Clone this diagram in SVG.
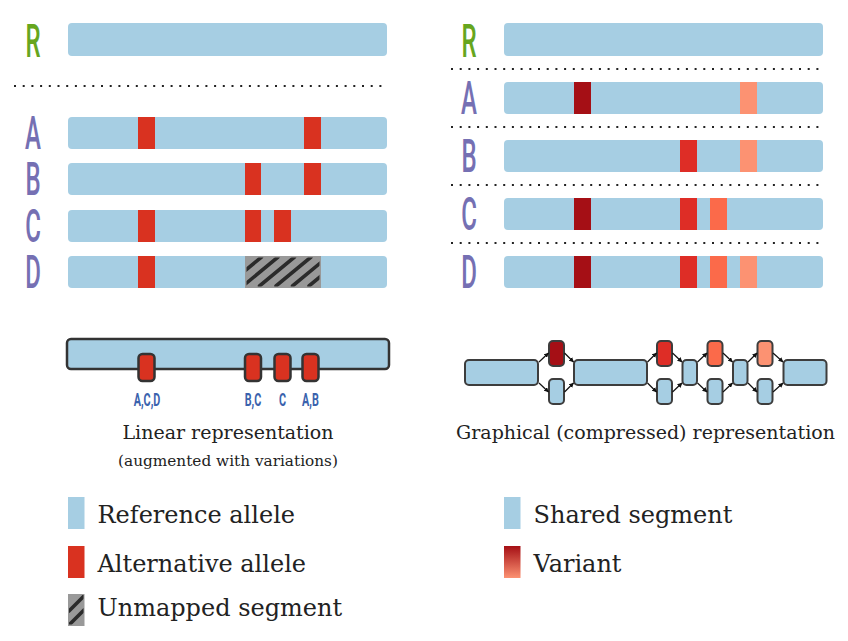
<svg xmlns="http://www.w3.org/2000/svg" width="848" height="641" viewBox="0 0 848 641">
<defs>
<style>
.seg{fill:#a6cee3}
.alt{fill:#d93220}
.v1{fill:#a50f15}.v2{fill:#de2d26}.v3{fill:#fb6a4a}.v4{fill:#fc9272}
.lt{font-family:Roboto,"DejaVu Sans",sans-serif;font-size:30px;font-weight:500;text-anchor:middle}
.gr{fill:#66a61e}.pu{fill:#7570b3}
.dot{stroke:#222;stroke-width:2;stroke-dasharray:2 6.7;fill:none}
.node{fill:#a6cee3;stroke:#3d3d3d;stroke-width:2}
.edge{stroke:#111;stroke-width:1.2;fill:none;marker-end:url(#ah)}
.cap{font-family:"DejaVu Serif",serif;fill:#222;text-anchor:middle}
.leg{font-family:"DejaVu Serif",serif;fill:#222;font-size:24px}
.lab{font-family:Roboto,"DejaVu Sans",sans-serif;font-size:18px;font-weight:700;fill:#3a62ad;text-anchor:middle}
.hl{stroke:#2b2b2b;stroke-width:3.6;stroke-linecap:round;fill:none}
</style>
<marker id="ah" viewBox="0 0 10 10" refX="9" refY="5" markerWidth="5" markerHeight="5" orient="auto" markerUnits="userSpaceOnUse">
<path d="M0,0 L10,5 L0,10 z" fill="#111"/>
</marker>
<clipPath id="hclip"><rect x="246.5" y="257.5" width="73" height="29"/></clipPath>
<clipPath id="lclip"><rect x="69" y="595" width="14.5" height="29.5"/></clipPath>
<linearGradient id="vg" x1="0" y1="0" x2="0" y2="1">
<stop offset="0" stop-color="#a50f15"/>
<stop offset="1" stop-color="#fc9272"/>
</linearGradient>
</defs>
<rect width="848" height="641" fill="#fff"/>

<g id="left-panel">
<text class="lt gr" transform="translate(33,57) scale(0.8,1.53)">R</text>
<rect class="seg" x="68" y="23" width="319" height="33" rx="4"/>
<line class="dot" x1="14" y1="86" x2="384" y2="86"/>
<g id="left-A">
<text class="lt pu" transform="translate(33,149) scale(0.8,1.53)">A</text>
<rect class="seg" x="68" y="117" width="319" height="32" rx="4"/>
<rect class="alt" x="138" y="117" width="17" height="32"/>
<rect class="alt" x="304" y="117" width="17" height="32"/>
</g>
<g id="left-B">
<text class="lt pu" transform="translate(33,195) scale(0.8,1.53)">B</text>
<rect class="seg" x="68" y="163" width="319" height="32" rx="4"/>
<rect class="alt" x="245" y="163" width="16" height="32"/>
<rect class="alt" x="304" y="163" width="17" height="32"/>
</g>
<g id="left-C">
<text class="lt pu" transform="translate(33,242) scale(0.8,1.53)">C</text>
<rect class="seg" x="68" y="210" width="319" height="32" rx="4"/>
<rect class="alt" x="138" y="210" width="17" height="32"/>
<rect class="alt" x="245" y="210" width="16" height="32"/>
<rect class="alt" x="274" y="210" width="17" height="32"/>
</g>
<g id="left-D">
<text class="lt pu" transform="translate(33,288) scale(0.8,1.53)">D</text>
<rect class="seg" x="68" y="256" width="319" height="32" rx="4"/>
<rect class="alt" x="138" y="256" width="17" height="32"/>
<rect x="245" y="256" width="76" height="32" fill="#999"/>
<g clip-path="url(#hclip)">
<line class="hl" x1="226.5" y1="286" x2="261.5" y2="257"/>
<line class="hl" x1="243" y1="286" x2="278" y2="257"/>
<line class="hl" x1="259.5" y1="286" x2="294.5" y2="257"/>
<line class="hl" x1="276" y1="286" x2="311" y2="257"/>
<line class="hl" x1="292.5" y1="286" x2="327.5" y2="257"/>
<line class="hl" x1="309" y1="286" x2="344" y2="257"/>
</g>
</g>
</g>

<g id="right-panel">
<text class="lt gr" transform="translate(469,57) scale(0.8,1.53)">R</text>
<rect class="seg" x="504" y="23" width="319" height="33" rx="4"/>
<line class="dot" x1="451" y1="69" x2="820" y2="69"/>
<line class="dot" x1="451" y1="127" x2="820" y2="127"/>
<line class="dot" x1="451" y1="185" x2="820" y2="185"/>
<line class="dot" x1="451" y1="243" x2="820" y2="243"/>
<g id="right-A">
<text class="lt pu" transform="translate(469,114) scale(0.8,1.53)">A</text>
<rect class="seg" x="504" y="82" width="319" height="32" rx="4"/>
<rect class="v1" x="574" y="82" width="17" height="32"/>
<rect class="v4" x="740" y="82" width="17" height="32"/>
</g>
<g id="right-B">
<text class="lt pu" transform="translate(469,172) scale(0.8,1.53)">B</text>
<rect class="seg" x="504" y="140" width="319" height="32" rx="4"/>
<rect class="v2" x="680" y="140" width="17" height="32"/>
<rect class="v4" x="740" y="140" width="17" height="32"/>
</g>
<g id="right-C">
<text class="lt pu" transform="translate(469,230) scale(0.8,1.53)">C</text>
<rect class="seg" x="504" y="198" width="319" height="32" rx="4"/>
<rect class="v1" x="574" y="198" width="17" height="32"/>
<rect class="v2" x="680" y="198" width="17" height="32"/>
<rect class="v3" x="710" y="198" width="17" height="32"/>
</g>
<g id="right-D">
<text class="lt pu" transform="translate(469,288) scale(0.8,1.53)">D</text>
<rect class="seg" x="504" y="256" width="319" height="32" rx="4"/>
<rect class="v1" x="574" y="256" width="17" height="32"/>
<rect class="v2" x="680" y="256" width="17" height="32"/>
<rect class="v3" x="710" y="256" width="17" height="32"/>
<rect class="v4" x="740" y="256" width="17" height="32"/>
</g>
</g>

<g id="linear-representation">
<rect x="67" y="339" width="322" height="30" rx="4" fill="#a6cee3" stroke="#333" stroke-width="2.5"/>
<rect x="138.5" y="354" width="16" height="27" rx="4" fill="#d93220" stroke="#333" stroke-width="2.5"/>
<rect x="245" y="354" width="16" height="27" rx="4" fill="#d93220" stroke="#333" stroke-width="2.5"/>
<rect x="274.5" y="354" width="16" height="27" rx="4" fill="#d93220" stroke="#333" stroke-width="2.5"/>
<rect x="302.5" y="354" width="16" height="27" rx="4" fill="#d93220" stroke="#333" stroke-width="2.5"/>
<text class="lab" transform="translate(147,406) scale(0.6,1)">A,C,D</text>
<text class="lab" transform="translate(253,406) scale(0.6,1)">B,C</text>
<text class="lab" transform="translate(282.5,406) scale(0.6,1)">C</text>
<text class="lab" transform="translate(310.5,406) scale(0.6,1)">A,B</text>
<text class="cap" x="228" y="439" font-size="19">Linear representation</text>
<text class="cap" x="228" y="466" font-size="15.3">(augmented with variations)</text>
</g>

<g id="graph">
<g id="n-big1"><rect class="node" x="465" y="360" width="73" height="25" rx="4"/></g>
<g id="n-top1"><rect class="node" x="549" y="341" width="15" height="25" rx="4" style="fill:#a50f15"/></g>
<g id="n-bot1"><rect class="node" x="549" y="379" width="15" height="25" rx="4"/></g>
<g id="n-big2"><rect class="node" x="574" y="360" width="73" height="25" rx="4"/></g>
<g id="n-top2"><rect class="node" x="657" y="341" width="15" height="25" rx="4" style="fill:#de2d26"/></g>
<g id="n-bot2"><rect class="node" x="657" y="379" width="15" height="25" rx="4"/></g>
<g id="n-mid1"><rect class="node" x="682.5" y="360" width="14.5" height="25" rx="4"/></g>
<g id="n-top3"><rect class="node" x="707.5" y="341" width="15" height="25" rx="4" style="fill:#fb6a4a"/></g>
<g id="n-bot3"><rect class="node" x="707.5" y="379" width="15" height="25" rx="4"/></g>
<g id="n-mid2"><rect class="node" x="733" y="360" width="14.5" height="25" rx="4"/></g>
<g id="n-top4"><rect class="node" x="757.5" y="341" width="15" height="25" rx="4" style="fill:#fc9272"/></g>
<g id="n-bot4"><rect class="node" x="757.5" y="379" width="15" height="25" rx="4"/></g>
<g id="n-big3"><rect class="node" x="783.5" y="360" width="43" height="25" rx="4"/></g>
<g id="connectors">
<line class="edge" x1="539" y1="362" x2="548.5" y2="353"/>
<line class="edge" x1="539" y1="383" x2="548.5" y2="392"/>
<line class="edge" x1="564.5" y1="353" x2="573.5" y2="362"/>
<line class="edge" x1="564.5" y1="392" x2="573.5" y2="383"/>
<line class="edge" x1="647.5" y1="362" x2="656.5" y2="353"/>
<line class="edge" x1="647.5" y1="383" x2="656.5" y2="392"/>
<line class="edge" x1="672.5" y1="353" x2="682" y2="362"/>
<line class="edge" x1="672.5" y1="392" x2="682" y2="383"/>
<line class="edge" x1="697.5" y1="362" x2="707" y2="353"/>
<line class="edge" x1="697.5" y1="383" x2="707" y2="392"/>
<line class="edge" x1="723" y1="353" x2="732.5" y2="362"/>
<line class="edge" x1="723" y1="392" x2="732.5" y2="383"/>
<line class="edge" x1="748" y1="362" x2="757" y2="353"/>
<line class="edge" x1="748" y1="383" x2="757" y2="392"/>
<line class="edge" x1="773" y1="353" x2="783" y2="362"/>
<line class="edge" x1="773" y1="392" x2="783" y2="383"/>
</g>
<text class="cap" x="645.5" y="439" font-size="19">Graphical (compressed) representation</text>
</g>

<g id="legend">
<rect class="seg" x="68" y="497" width="16.5" height="32"/>
<text class="leg" x="97.5" y="523">Reference allele</text>
<rect class="alt" x="68" y="546" width="16.5" height="32"/>
<text class="leg" x="97.5" y="572">Alternative allele</text>
<rect x="68" y="594" width="16.5" height="32" fill="#999"/>
<g clip-path="url(#lclip)">
<line class="hl" x1="69" y1="611" x2="84" y2="596"/>
<line class="hl" x1="69" y1="625" x2="84" y2="610"/>
</g>
<text class="leg" x="97.5" y="616">Unmapped segment</text>
<rect class="seg" x="504" y="497" width="16.5" height="32"/>
<text class="leg" x="533.5" y="523">Shared segment</text>
<rect x="504" y="546" width="16.5" height="32" fill="url(#vg)"/>
<text class="leg" x="533.5" y="572">Variant</text>
</g>
</svg>
